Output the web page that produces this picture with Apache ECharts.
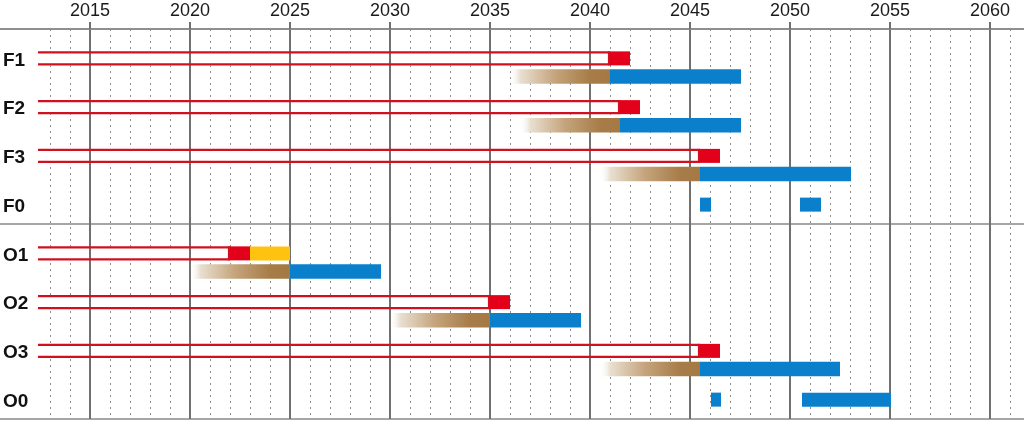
<!DOCTYPE html>
<html>
<head>
<meta charset="utf-8">
<script src="https://cdn.jsdelivr.net/npm/echarts@6/dist/echarts.min.js"></script>
<style>
  html, body { margin: 0; padding: 0; background: #fff; }
  #chart { width: 1024px; height: 426px; }
</style>
</head>
<body>
<div id="chart"></div>
<script>
  // rows, top to bottom
  const rows = ['F1', 'F2', 'F3', 'F0', 'O1', 'O2', 'O3', 'O0'];
  const barStart = 2012.4;
  // upper lane: open bar, then red block (and yellow for O1)
  const outlineEnd = [2041, 2041.5, 2045.5, null, 2022, 2035, 2045.5, null];
  const redEnd = [2042, 2042.5, 2046.5, null, 2023, 2036, 2046.5, null];
  const yellowEnd = [null, null, null, null, 2025, null, null, null];
  // lower lane: brown fade, then blue
  const fadeStart = [2036, 2036.5, 2040.5, null, 2020, 2030, 2040.5, null];
  const blueStart = [2041, 2041.5, 2045.5, null, 2025, 2035, 2045.5, null];
  const blueEnd = [2047.55, 2047.55, 2053.05, null, 2029.55, 2039.55, 2052.5, null];
  // small blue blocks on F0 / O0 rows: [row, from, to]
  const spotBlocks = [[3, 2045.5, 2046.05], [3, 2050.5, 2051.55], [7, 2046.05, 2046.55], [7, 2050.6, 2055.05]];

  const axisMin = 2010, axisMax = 2062;

  const RED = '#e3001b', YELLOW = '#ffc20e', BLUE = '#0a80cc';
  const fade = new echarts.graphic.LinearGradient(0, 0, 1, 0, [
    {offset: 0, color: 'rgba(255,255,255,0)'},
    {offset: 0.1, color: '#e9e0d2'},
    {offset: 0.45, color: '#c5a47c'},
    {offset: 0.8, color: '#a77c48'},
    {offset: 1, color: '#a57944'}
  ]);
  const fills = [RED, YELLOW, fade, BLUE];

  let outlineData = [], segData = [];
  rows.forEach((r, i) => {
    if (outlineEnd[i] != null) {
      outlineData.push([barStart, outlineEnd[i], i]);
      segData.push([outlineEnd[i], redEnd[i], i, 0, 0]);
    }
    if (yellowEnd[i] != null) segData.push([redEnd[i], yellowEnd[i], i, 1, 0]);
    if (fadeStart[i] != null) {
      segData.push([fadeStart[i], blueStart[i], i, 2, 1]);
      segData.push([blueStart[i], blueEnd[i], i, 3, 1]);
    }
  });
  spotBlocks.forEach(b => segData.push([b[1], b[2], b[0], 3, 0]));

  function laneRect(api, lane) {
    const s = api.coord([api.value(0), api.value(2)]);
    const e = api.coord([api.value(1), api.value(2)]);
    const top = lane === 0 ? s[1] - 2 : s[1] + 15.8;
    const h = lane === 0 ? 14 : 14.5;
    return {x: s[0], y: top, width: e[0] - s[0], height: h};
  }

  const minorColors = [];
  for (let y = axisMin; y <= axisMax; y++) minorColors.push(y < 2013 ? 'rgba(0,0,0,0)' : '#8e8e8e');

  const chart = echarts.init(document.getElementById('chart'));
  chart.setOption({
    animation: false,
    grid: {left: -10, right: -6, top: 29, bottom: 7, outerBoundsMode: 'none', containLabel: false},
    xAxis: [{
      type: 'value',
      position: 'top',
      min: axisMin,
      max: axisMax,
      interval: 5,
      z: 2,
      axisLine: {show: true, lineStyle: {color: '#888', width: 1.5}},
      axisTick: {show: true, length: 7, lineStyle: {color: '#707070', width: 2}},
      axisLabel: {
        fontSize: 18, color: '#1a1a1a', margin: 9, fontFamily: 'Liberation Sans, Arial, sans-serif',
        showMaxLabel: false,
        formatter: v => v < 2015 ? '' : String(v)
      },
      splitLine: {show: true, lineStyle: {color: '#707070', width: 2}}
    }, {
      type: 'value',
      position: 'top',
      min: axisMin,
      max: axisMax,
      interval: 1,
      z: 0,
      axisLine: {show: false},
      axisTick: {show: false},
      axisLabel: {show: false},
      splitLine: {show: true, lineStyle: {color: minorColors, width: 1, type: [2, 4]}}
    }],
    yAxis: {
      type: 'category',
      data: rows,
      inverse: true,
      z: 2,
      axisLine: {show: false},
      axisTick: {show: false},
      axisLabel: {
        inside: true, margin: 13, interval: 0, fontSize: 19, fontWeight: 'bold', color: '#111',
        fontFamily: 'Liberation Sans, Arial, sans-serif', verticalAlign: 'top', lineHeight: 14
      },
      splitLine: {show: true, interval: i => i === 0 || i === 4, lineStyle: {color: '#888', width: 1.5}}
    },
    series: [{
      type: 'custom',
      name: 'open-fill',
      z: 1,
      xAxisIndex: 0,
      encode: {x: [0, 1], y: 2},
      data: outlineData,
      renderItem: (params, api) => ({
        type: 'rect', shape: laneRect(api, 0), style: {fill: '#fff'}
      })
    }, {
      type: 'custom',
      name: 'open-border',
      z: 3,
      xAxisIndex: 0,
      encode: {x: [0, 1], y: 2},
      data: outlineData,
      renderItem: (params, api) => {
        const r = laneRect(api, 0);
        const st = {stroke: '#d0101f', lineWidth: 2.2, fill: null};
        return {
          type: 'group', children: [
            {type: 'line', shape: {x1: r.x, y1: r.y + 1, x2: r.x + r.width, y2: r.y + 1}, style: st},
            {type: 'line', shape: {x1: r.x, y1: r.y + r.height - 1, x2: r.x + r.width, y2: r.y + r.height - 1}, style: st},
            {type: 'line', shape: {x1: r.x + r.width - 1, y1: r.y, x2: r.x + r.width - 1, y2: r.y + r.height}, style: st}
          ]
        };
      }
    }, {
      type: 'custom',
      name: 'segments',
      z: 3,
      xAxisIndex: 0,
      encode: {x: [0, 1], y: 2},
      data: segData,
      renderItem: (params, api) => ({
        type: 'rect', shape: laneRect(api, api.value(4)), style: {fill: fills[api.value(3)]}
      })
    }]
  });
</script>
</body>
</html>
